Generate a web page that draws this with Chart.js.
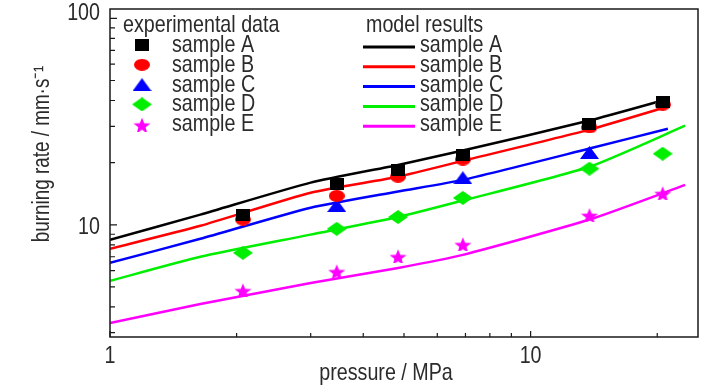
<!DOCTYPE html>
<html>
<head>
<meta charset="utf-8">
<script src="https://cdn.jsdelivr.net/npm/chart.js@4.4.1/dist/chart.umd.min.js"></script>
<style>
    html, body { margin: 0; padding: 0; background: #ffffff; }
    #wrap { width: 726px; height: 390px; }
</style>
</head>
<body>
<div id="wrap"><canvas id="rateChart" width="726" height="390"></canvas></div>
<script>
// --- Data (pressure in MPa, burning rate in mm/s) ---
const pressureExp = [2.07, 3.46, 4.84, 6.9, 13.8, 20.6];
const expA = [11.2, 15.8, 18.5, 21.9, 30.9, 39.5];
const expB = [10.6, 13.8, 17.1, 20.7, 29.6, 38.2];
const pressureExpC = [3.46, 6.9, 13.8];
const expC = [12.4, 16.9, 22.4];
const expD = [7.31, 9.56, 10.9, 13.5, 18.7, 22.1];
const expE = [4.84, 5.98, 7.07, 8.09, 11.2, 14.3];

const pressureModelA = [1, 1.64, 3.0, 4.84, 6.9, 13.8, 21.4];
const pressureModelBC = [1, 1.64, 3.0, 4.84, 6.9, 13.8, 21.2];
const pressureModelDE = [1, 1.64, 3.0, 4.84, 6.9, 13.8, 23.3];
const modelA = [8.46, 11.2, 16.0, 19.5, 22.9, 32.0, 40.9];
const modelB = [7.65, 9.89, 14.3, 17.1, 20.4, 28.9, 37.4];
const modelC = [6.54, 8.55, 12.1, 14.5, 16.5, 23.4, 29.2];
const modelD = [5.35, 7.0, 8.96, 10.9, 13.1, 19.1, 30.2];
const modelE = [3.34, 4.13, 5.22, 6.18, 7.15, 10.6, 15.6];

const sampleNames = ['sample A', 'sample B', 'sample C', 'sample D', 'sample E'];
const xTicks = [1, 2, 3, 4, 5, 6, 7, 8, 9, 10, 20];
const xLabels = [1, 10];
const yTicks = [3, 4, 5, 6, 7, 8, 9, 10, 20, 30, 40, 50, 60, 70, 80, 90, 100];
const yLabels = [10, 100];

const FONT = '"Liberation Sans", Arial, sans-serif';
const NARROW = 0.82; // the original uses a condensed face; squeeze the text horizontally
const TEXT = '#2b2b2b';
const colors = ['#000000', '#ff0000', '#0000ff', '#00ee00', '#ff00ff'];

// small canvases used as point styles (the original markers are a bit stretched)
function makeMarker(shape, color, w, h) {
    const c = document.createElement('canvas');
    c.width = w; c.height = h;
    const g = c.getContext('2d');
    g.fillStyle = color;
    g.beginPath();
    if (shape === 'square') {
        g.rect(0, 0, w, h);
    } else if (shape === 'ellipse') {
        g.ellipse(w / 2, h / 2, w / 2, h / 2, 0, 0, Math.PI * 2);
    } else if (shape === 'triangle') {
        g.moveTo(w / 2, 0); g.lineTo(w, h); g.lineTo(0, h);
    } else if (shape === 'diamond') {
        g.moveTo(w / 2, 0); g.lineTo(w, h / 2); g.lineTo(w / 2, h); g.lineTo(0, h / 2);
    } else if (shape === 'star') {
        for (let i = 0; i < 10; i++) {
            const r = i % 2 === 0 ? 1 : 0.42;
            const a = -Math.PI / 2 + i * Math.PI / 5;
            const px = w / 2 + Math.cos(a) * r * w / 2;
            const py = h / 2 + 2 + Math.sin(a) * r * (h / 2 + 1);
            if (i === 0) g.moveTo(px, py); else g.lineTo(px, py);
        }
    }
    g.closePath();
    g.fill();
    return c;
}

const markers = [
    makeMarker('square', '#000000', 14, 12),
    makeMarker('ellipse', '#ff0000', 16, 12),
    makeMarker('triangle', '#0000ff', 19, 13),
    makeMarker('diamond', '#00ee00', 20, 14),
    makeMarker('star', '#ff00ff', 18, 15)
];

const toPoints = (xs, ys) => xs.map((x, i) => ({ x: x, y: ys[i] }));

const expSets = [
    toPoints(pressureExp, expA),
    toPoints(pressureExp, expB),
    toPoints(pressureExpC, expC),
    toPoints(pressureExp, expD),
    toPoints(pressureExp, expE)
];
const modelSets = [
    toPoints(pressureModelA, modelA),
    toPoints(pressureModelBC, modelB),
    toPoints(pressureModelBC, modelC),
    toPoints(pressureModelDE, modelD),
    toPoints(pressureModelDE, modelE)
];

const datasets = [];
expSets.forEach((pts, i) => {
    datasets.push({
        label: sampleNames[i] + ' (exp)',
        data: pts,
        showLine: false,
        pointStyle: markers[i],
        pointRadius: 8,
        order: 0
    });
});
modelSets.forEach((pts, i) => {
    datasets.push({
        label: sampleNames[i] + ' (model)',
        data: pts,
        showLine: true,
        borderColor: colors[i],
        borderWidth: 2.5,
        pointRadius: 0,
        tension: 0.2,
        order: 1
    });
});

// condensed text helper
function narrowText(ctx, text, x, y, align, baseline, size, rotate) {
    ctx.save();
    ctx.font = size + 'px ' + FONT;
    ctx.fillStyle = TEXT;
    ctx.textAlign = align;
    ctx.textBaseline = baseline;
    ctx.translate(x, y);
    if (rotate) ctx.rotate(rotate);
    ctx.scale(NARROW, 1);
    ctx.fillText(text, 0, 0);
    ctx.restore();
}

// --- Plugins: frame with inward ticks, axis texts, two-column legend ---
const framePlugin = {
    id: 'frame',
    afterDraw(chart) {
        const { ctx, chartArea: a, scales } = chart;
        ctx.save();
        ctx.strokeStyle = '#1a1a1a';
        ctx.lineWidth = 1.5;
        ctx.strokeRect(a.left, a.top, a.right - a.left, a.bottom - a.top);
        ctx.lineWidth = 1.2;
        ctx.beginPath();
        xTicks.forEach(v => {
            const px = scales.x.getPixelForValue(v);
            const len = xLabels.includes(v) ? 6 : 4;
            ctx.moveTo(px, a.bottom);
            ctx.lineTo(px, a.bottom - len);
        });
        yTicks.forEach(v => {
            const py = scales.y.getPixelForValue(v);
            const len = yLabels.includes(v) ? 7 : 5;
            ctx.moveTo(a.left, py);
            ctx.lineTo(a.left + len, py);
        });
        ctx.stroke();
        ctx.restore();

        // tick labels
        xLabels.forEach(v => {
            narrowText(ctx, String(v), scales.x.getPixelForValue(v), a.bottom + 26, 'center', 'alphabetic', 24);
        });
        yLabels.forEach(v => {
            const py = scales.y.getPixelForValue(v);
            const base = (py - a.top < 20) ? py + 2 : py + 9;
            narrowText(ctx, String(v), a.left - 10, base, 'right', 'alphabetic', 24);
        });

        // axis titles
        narrowText(ctx, 'pressure / MPa', 386, 380, 'center', 'alphabetic', 24);
        narrowText(ctx, 'burning rate / mm·s⁻¹', 49, 154, 'center', 'alphabetic', 23, -Math.PI / 2);
    }
};

const legendPlugin = {
    id: 'twoColLegend',
    afterDraw(chart) {
        const ctx = chart.ctx;
        narrowText(ctx, 'experimental data', 123, 32, 'left', 'alphabetic', 24);
        narrowText(ctx, 'model results', 366, 32, 'left', 'alphabetic', 24);
        sampleNames.forEach((name, i) => {
            const y = 45 + i * 19.8;
            Chart.helpers.drawPoint(ctx, { pointStyle: markers[i], radius: 8, rotation: 0 }, 142, y);
            narrowText(ctx, name, 172, y + 7, 'left', 'alphabetic', 24);

            ctx.save();
            ctx.strokeStyle = colors[i];
            ctx.lineWidth = 3;
            ctx.beginPath();
            ctx.moveTo(363, y + 2);
            ctx.lineTo(415, y + 2);
            ctx.stroke();
            ctx.restore();
            narrowText(ctx, name, 420, y + 7, 'left', 'alphabetic', 24);
        });
    }
};

// --- Chart ---
new Chart(document.getElementById('rateChart'), {
    type: 'scatter',
    data: { datasets: datasets },
    options: {
        responsive: false,
        animation: false,
        layout: { padding: { left: 0, right: 28, top: 9, bottom: 0 } },
        plugins: {
            legend: { display: false },
            tooltip: { enabled: false }
        },
        scales: {
            x: {
                type: 'logarithmic',
                min: 1,
                max: 25,
                afterFit: s => { s.height = 53; },
                afterBuildTicks: s => { s.ticks = xTicks.map(v => ({ value: v })); },
                grid: { display: false, drawTicks: false },
                border: { display: false },
                ticks: { display: false }
            },
            y: {
                type: 'logarithmic',
                min: 2.86,
                max: 111,
                afterFit: s => { s.width = 110; },
                afterBuildTicks: s => { s.ticks = yTicks.map(v => ({ value: v })); },
                grid: { display: false, drawTicks: false },
                border: { display: false },
                ticks: { display: false }
            }
        }
    },
    plugins: [framePlugin, legendPlugin]
});
</script>
</body>
</html>
